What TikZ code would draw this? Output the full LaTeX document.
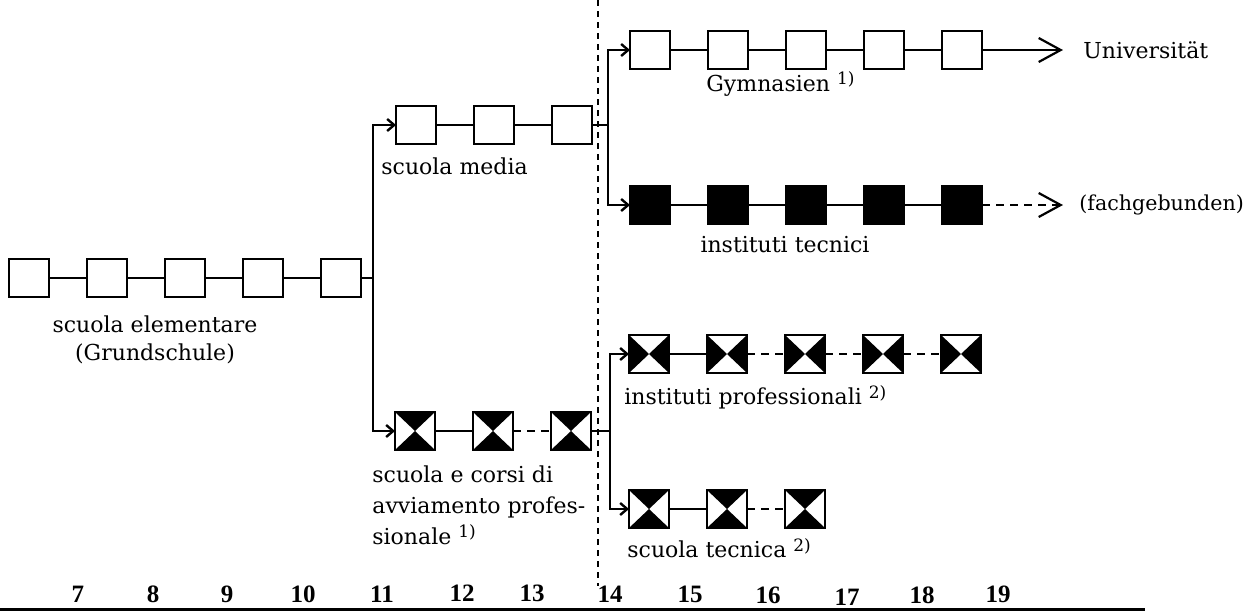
\documentclass[tikz,border=0pt]{standalone}
\usepackage{fontspec}
\setmainfont{DejaVu Serif}
\newfontfamily\agefont{Liberation Serif}
\usetikzlibrary{positioning, arrows.meta}

\newcommand{\fnmark}[1]{\raisebox{0.55ex}{\fontsize{8.5}{10}\selectfont #1}}

\begin{document}
\begin{tikzpicture}[
    x=0.5pt, y=-0.5pt,
    box/.style={
        rectangle,
        draw=black,
        line width=1.25pt,
        minimum width=20pt,
        minimum height=19pt,
        inner sep=0pt,
        outer sep=0pt,
        node distance=19pt
    },
    fullbox/.style={box, fill=black},
    hourbox/.style={box, path picture={
        \fill (path picture bounding box.north west) -- (path picture bounding box.center) -- (path picture bounding box.north east) -- cycle;
        \fill (path picture bounding box.south west) -- (path picture bounding box.center) -- (path picture bounding box.south east) -- cycle;
    }},
    bowbox/.style={box, path picture={
        \fill (path picture bounding box.north west) -- (path picture bounding box.center) -- (path picture bounding box.south west) -- cycle;
        \fill (path picture bounding box.north east) -- (path picture bounding box.center) -- (path picture bounding box.south east) -- cycle;
    }},
    link/.style={line width=1pt},
    dlink/.style={line width=1pt, dash pattern=on 4pt off 3pt},
    branch/.style={
        line width=1.2pt,
        -{Straight Barb[length=3.5pt, width=6pt]}
    },
    bigarrow/.style={
        line width=1pt,
        -{Straight Barb[length=11pt, width=12pt, line width=1.1pt]}
    },
    txt/.style={font=\fontsize{11}{15}\selectfont, inner sep=0pt},
    age/.style={font=\agefont\bfseries\fontsize{12.5}{14}\selectfont, inner sep=0pt}
]
    \useasboundingbox (0,0) rectangle (1249,612);

    % -- scuola elementare --
    \node[box] (e1) at (29,278) {};
    \node[box, right=of e1] (e2) {};
    \node[box, right=of e2] (e3) {};
    \node[box, right=of e3] (e4) {};
    \node[box, right=of e4] (e5) {};
    \draw[link] (e1) -- (e2);
    \draw[link] (e2) -- (e3);
    \draw[link] (e3) -- (e4);
    \draw[link] (e4) -- (e5);
    \node[txt, anchor=north, align=center, font=\fontsize{11}{14}\selectfont] (elab) at (155,315) {scuola elementare\\(Grundschule)};

    % -- scuola media --
    \node[box] (m1) at (416,125) {};
    \node[box, right=of m1] (m2) {};
    \node[box, right=of m2] (m3) {};
    \draw[link] (m1) -- (m2);
    \draw[link] (m2) -- (m3);
    \node[txt, anchor=west] (mlab) at (381,166) {scuola media};

    % -- scuola e corsi di avviamento professionale --
    \node[hourbox] (c1) at (415,431) {};
    \node[hourbox, right=of c1] (c2) {};
    \node[hourbox, right=of c2] (c3) {};
    \draw[link] (c1) -- (c2);
    \draw[dlink] (c2) -- (c3);
    \node[txt, anchor=north west, align=left, font=\fontsize{11}{15.5}\selectfont] (clab) at (372,465) {scuola e corsi di\\avviamento profes-\\sionale \fnmark{1)}};

    % Branch after age 11
    \coordinate (jA) at (373,278);
    \draw[link] (e5) -- (jA);
    \draw[branch] (jA) |- (m1);
    \draw[branch] (jA) |- (c1);

    % -- Gymnasien --
    \node[box] (g1) at (650,50) {};
    \node[box, right=of g1] (g2) {};
    \node[box, right=of g2] (g3) {};
    \node[box, right=of g3] (g4) {};
    \node[box, right=of g4] (g5) {};
    \draw[link] (g1) -- (g2);
    \draw[link] (g2) -- (g3);
    \draw[link] (g3) -- (g4);
    \draw[link] (g4) -- (g5);
    \node[txt, anchor=west] (glab) at (706,84) {Gymnasien \fnmark{1)}};
    \node[txt, anchor=west] (uni) at (1083,50) {Universität};
    \draw[bigarrow, shorten >=10pt] (g5) -- (uni.west);

    % -- instituti tecnici --
    \node[fullbox] (t1) at (650,205) {};
    \node[fullbox, right=of t1] (t2) {};
    \node[fullbox, right=of t2] (t3) {};
    \node[fullbox, right=of t3] (t4) {};
    \node[fullbox, right=of t4] (t5) {};
    \draw[link] (t1) -- (t2);
    \draw[link] (t2) -- (t3);
    \draw[link] (t3) -- (t4);
    \draw[link] (t4) -- (t5);
    \node[txt] (tlab) at (785,245) {instituti tecnici};
    \node[txt, anchor=west, font=\fontsize{10.3}{14}\selectfont] (fach) at (1079,205) {(fachgebunden)};
    \draw[bigarrow, dash pattern=on 4pt off 3pt, shorten >=8pt] (t5) -- (fach.west);

    % Branch after scuola media
    \coordinate (jB) at (608,125);
    \draw[link] (m3) -- (jB);
    \draw[branch] (jB) |- (g1);
    \draw[branch] (jB) |- (t1);

    % -- instituti professionali --
    \node[bowbox] (p1) at (649,354) {};
    \node[bowbox, right=of p1] (p2) {};
    \node[bowbox, right=of p2] (p3) {};
    \node[bowbox, right=of p3] (p4) {};
    \node[bowbox, right=of p4] (p5) {};
    \draw[link] (p1) -- (p2);
    \draw[dlink] (p2) -- (p3);
    \draw[dlink] (p3) -- (p4);
    \draw[dlink] (p4) -- (p5);
    \node[txt, anchor=west] (plab) at (624,397) {instituti professionali \fnmark{2)}};

    % -- scuola tecnica --
    \node[hourbox] (s1) at (649,509) {};
    \node[hourbox, right=of s1] (s2) {};
    \node[hourbox, right=of s2] (s3) {};
    \draw[link] (s1) -- (s2);
    \draw[dlink] (s2) -- (s3);
    \node[txt, anchor=west] (slab) at (627,548) {scuola tecnica \fnmark{2)}};

    % Branch after avviamento
    \coordinate (jC) at (610,431);
    \draw[link] (c3) -- (jC);
    \draw[branch] (jC) |- (p1);
    \draw[branch] (jC) |- (s1);

    % Age 14 divide
    \draw[line width=0.7pt, dash pattern=on 3pt off 2.5pt] (598,0) -- (598,586);

    % -- Age axis --
    \node[age] (a7) at (78,594) {7};
    \node[age] (a8) at (153,594) {8};
    \node[age] (a9) at (227,594) {9};
    \node[age] (a10) at (303,594) {10};
    \node[age] (a11) at (382,594) {11};
    \node[age] (a12) at (462,593) {12};
    \node[age] (a13) at (532,593) {13};
    \node[age] (a14) at (610,594) {14};
    \node[age] (a15) at (690,594) {15};
    \node[age] (a16) at (768,595) {16};
    \node[age] (a17) at (847,597) {17};
    \node[age] (a18) at (922,595) {18};
    \node[age] (a19) at (998,594) {19};
    \draw[line width=1.5pt] (0,609) -- (1145,609);

\end{tikzpicture}
\end{document}
